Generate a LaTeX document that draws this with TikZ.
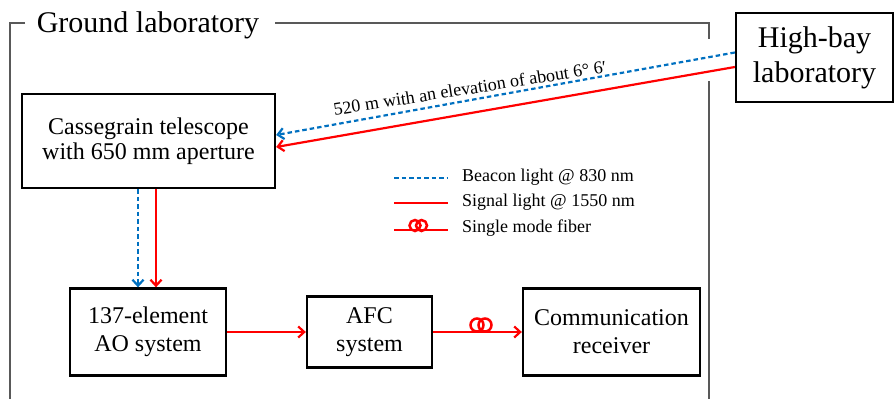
\documentclass[tikz,border=0pt]{standalone}
\usepackage{fontspec}
\setmainfont{Liberation Serif}
\usetikzlibrary{arrows.meta}
\definecolor{beacon}{RGB}{0,112,192}
\definecolor{signal}{RGB}{255,0,0}
\definecolor{frame}{RGB}{89,89,89}
\begin{document}
\begin{tikzpicture}[x=1pt,y=-1pt,
  box/.style={draw=black,line width=2.3pt,align=center,inner sep=0pt,font=\fontsize{24}{28}\selectfont},
  sig/.style={draw=signal,line width=2.2pt,-{Straight Barb[length=6pt,width=11pt,line width=2.2pt]}},
  bea/.style={draw=beacon,line width=2.2pt,dash pattern=on 4.5pt off 3pt,-{Straight Barb[length=6pt,width=11pt,line width=2.2pt]}},
  coil/.style={draw=signal,line width=2.5pt},
  legtext/.style={anchor=west,inner sep=0pt,font=\fontsize{18}{20}\selectfont},
  framel/.style={draw=frame,line width=2.2pt}]
\useasboundingbox (0,0) rectangle (895,399);
% frame
\draw[framel] (25,23) -- (10,23) -- (10,402);
\draw[framel] (275,23) -- (709,23) -- (709,39);
\draw[framel] (709,81) -- (709,402);
\node[anchor=base,inner sep=0pt,font=\fontsize{30}{34}\selectfont] (title) at (148,32) {Ground laboratory};
% boxes
\node[box,minimum width=253pt,minimum height=94pt,font=\fontsize{24}{25}\selectfont] (cass) at (148.5,141) {Cassegrain telescope\\with 650 mm aperture};
\node[box,minimum width=157pt,minimum height=89pt,font=\fontsize{30}{35}\selectfont] (hb) at (814.5,57.5) {High-bay\\laboratory};
\node[box,minimum width=156pt,minimum height=87pt] (ao) at (148,332) {137-element\\AO system};
\node[box,minimum width=125pt,minimum height=71pt] (afc) at (369.5,332) {AFC\\system};
\node[box,minimum width=177pt,minimum height=87pt] (comm) at (611.5,332) {Communication\\receiver};
% links
\draw[bea] ([yshift=5pt]hb.west) -- ([yshift=6pt]cass.east);
\draw[sig] ([yshift=-9.5pt]hb.west) -- ([yshift=-6pt]cass.east);
\node[rotate=9,font=\fontsize{18}{20}\selectfont,inner sep=0pt] (dist) at (470,88) {520 m with an elevation of about 6° 6′};
\draw[bea] ([xshift=-10.5pt]cass.south) -- ([xshift=-10pt]ao.north);
\draw[sig] ([xshift=7.5pt]cass.south) -- ([xshift=8pt]ao.north);
\draw[sig] (ao.east) -- (afc.west);
\draw[sig] (afc.east) -- (comm.west);
\draw[coil] (477,325) circle (6.5pt) (485,325) circle (6.5pt);
% legend
\coordinate (l1a) at (394,178); \coordinate (l1b) at (448,178);
\coordinate (l2a) at (394,203); \coordinate (l2b) at (448,203);
\coordinate (l3a) at (394,230); \coordinate (l3b) at (448,230);
\draw[draw=beacon,line width=2.2pt,dash pattern=on 4.5pt off 3pt] (l1a) -- (l1b);
\draw[draw=signal,line width=2.2pt] (l2a) -- (l2b);
\draw[draw=signal,line width=2.2pt] (l3a) -- (l3b);
\draw[coil] (415,225.5) circle (5.5pt) (421.5,225.5) circle (5.5pt);
\node[legtext] (t1) at (462,177) {Beacon light @ 830 nm};
\node[legtext] (t2) at (462,202) {Signal light @ 1550 nm};
\node[legtext] (t3) at (462,228) {Single mode fiber};
\end{tikzpicture}
\end{document}
